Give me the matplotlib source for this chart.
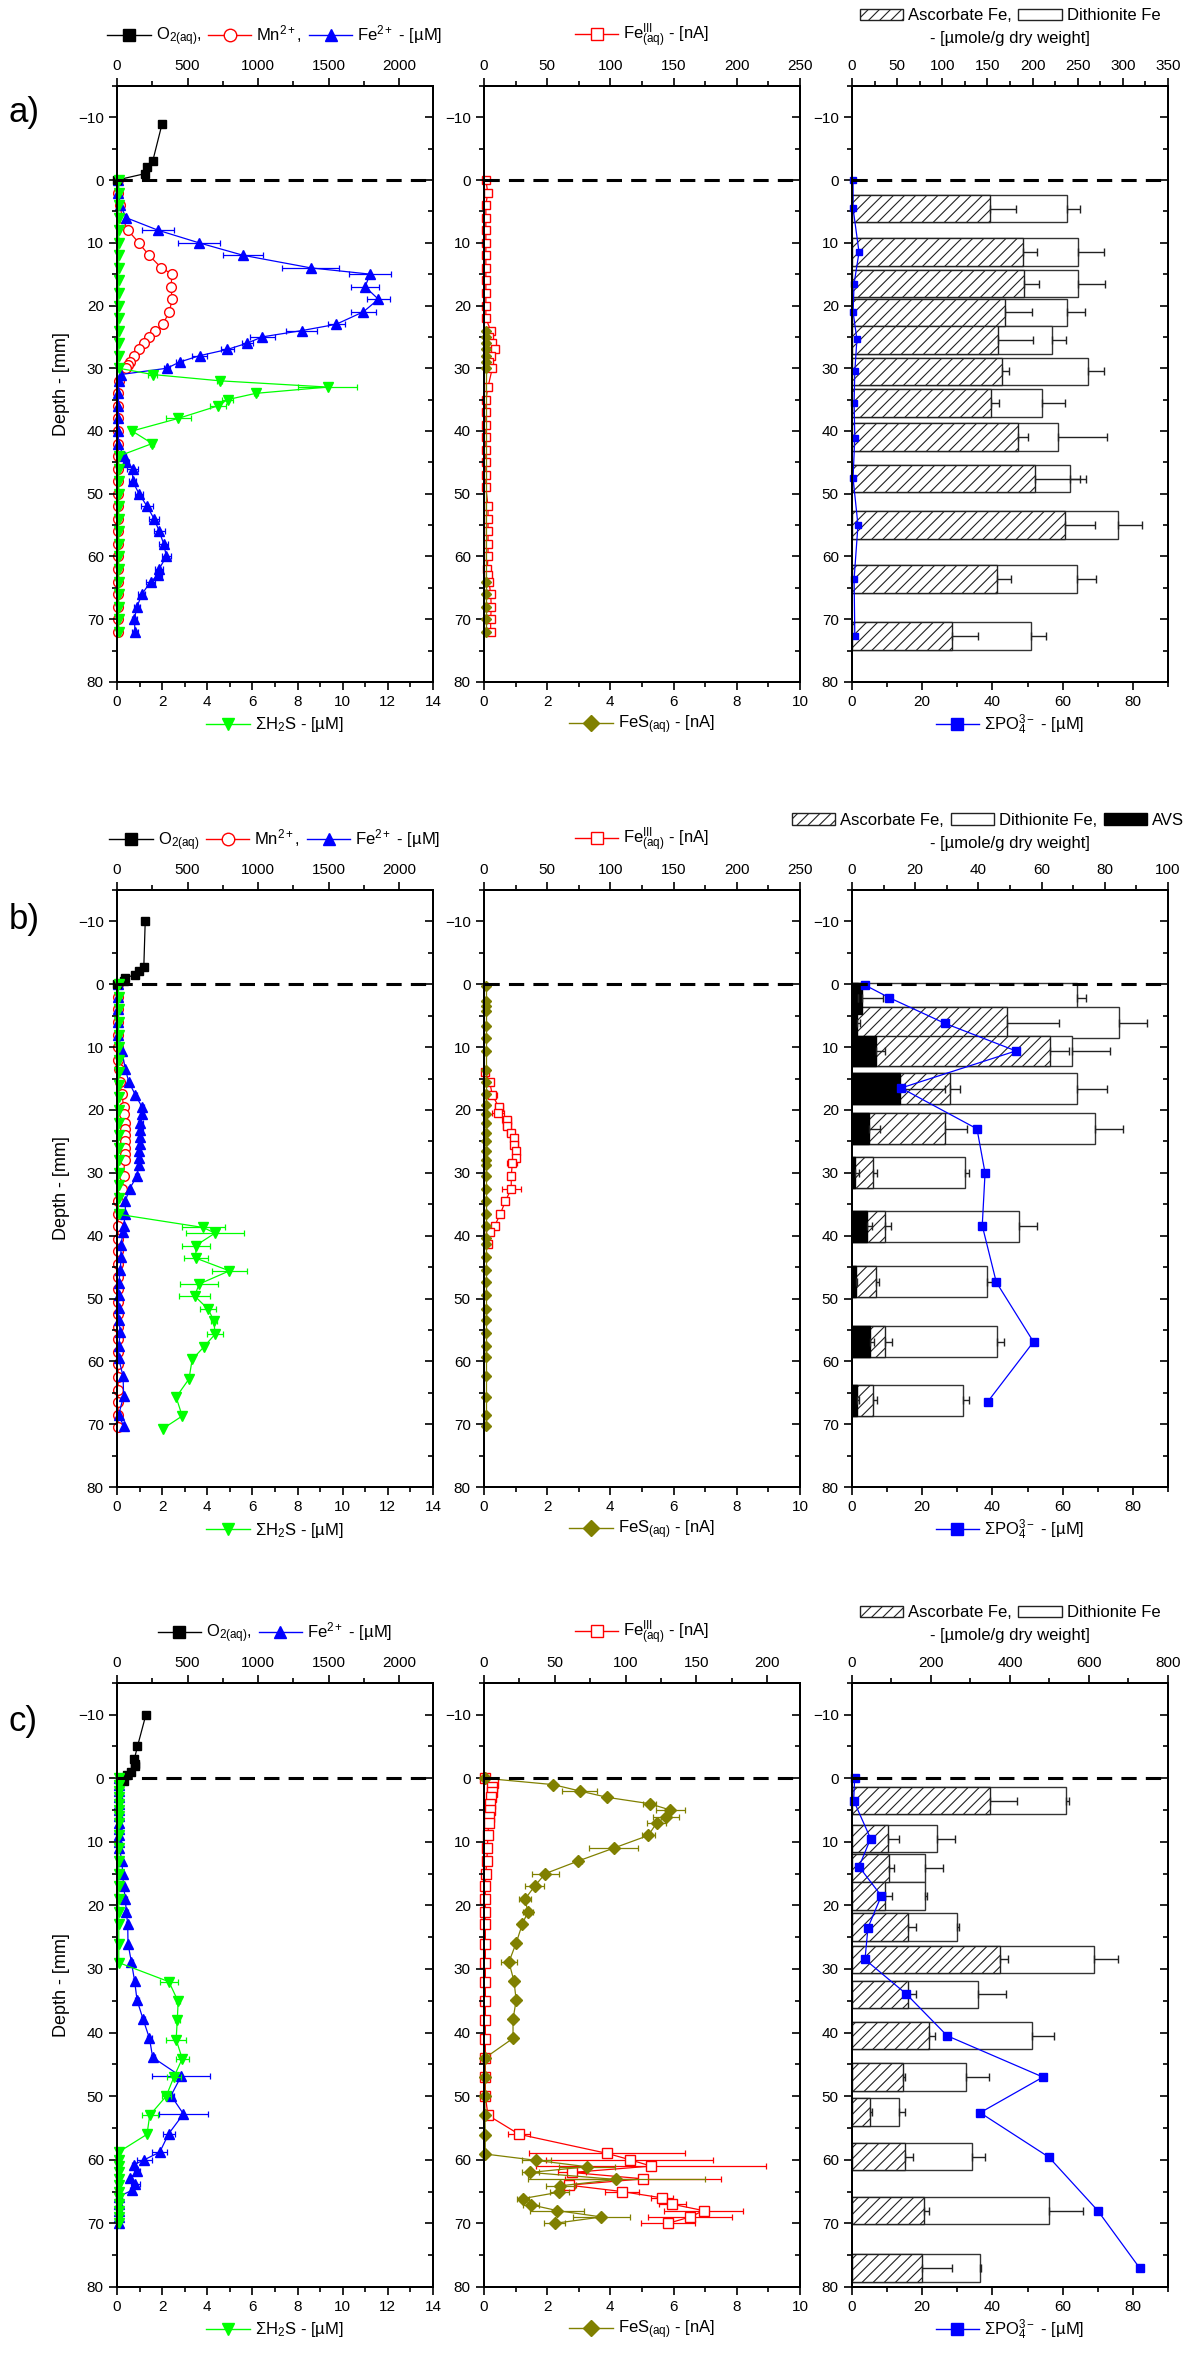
import matplotlib
matplotlib.use('Agg')
import matplotlib.pyplot as plt
import numpy as np
from matplotlib.lines import Line2D
from matplotlib.patches import Patch
from matplotlib.ticker import MultipleLocator

plt.rcParams['font.family'] = ['Liberation Sans', 'DejaVu Sans']
plt.rcParams['mathtext.fontset'] = 'custom'
plt.rcParams['mathtext.rm'] = 'Liberation Sans'
plt.rcParams['mathtext.it'] = 'Liberation Sans:italic'
plt.rcParams['mathtext.bf'] = 'Liberation Sans:bold'
plt.rcParams['hatch.linewidth'] = 0.8

RED = '#ff0000'
BLUE = '#0000ff'
GREEN = '#00ff00'
OLIVE = '#808000'

#################### a) ####################
o2_a_depth = [-9, -3, -2, -1, 0]
o2_a = [320, 253, 210, 195, 0]

mn_a_depth = [0, 2, 4, 6, 8, 10, 12, 14, 15, 17, 19, 21, 23, 24, 25, 26, 27, 28, 29, 29.5, 30,
              32, 34, 36, 38, 40, 42, 44, 46, 48, 50, 52, 54, 56, 58, 60, 62, 64, 66, 68, 70, 72]
mn_a = [5, 8, 24, 35, 78, 154, 227, 315, 390, 383, 390, 372, 324, 272, 225, 189, 154, 118, 95, 78, 66,
        12, 10, 10, 10, 10, 10, 10, 10, 10, 10, 10, 10, 10, 10, 10, 10, 10, 10, 10, 10, 10]
mn_a_err = [0, 0, 0, 0, 0, 0, 0, 12, 15, 15, 15, 15, 12, 12, 12, 10, 10, 10, 8, 8, 8,
            0, 0, 0, 0, 0, 0, 0, 0, 0, 0, 0, 0, 0, 0, 0, 0, 0, 0, 0, 0, 0]

fe_a_depth = [0, 2, 4, 6, 8, 10, 12, 14, 15, 17, 19, 21, 23, 24, 25, 26, 27, 28, 29, 30, 31,
              32, 34, 36, 38, 40, 42, 44, 45, 46, 48, 50, 52, 54, 56, 58, 60, 62, 63, 64, 66, 68, 70, 72]
fe_a = [5, 10, 24, 64, 291, 580, 895, 1373, 1794, 1759, 1853, 1747, 1553, 1309, 1030, 923, 783, 585, 445, 353, 28,
        12, 10, 10, 10, 10, 10, 47, 66, 111, 111, 156, 213, 263, 300, 331, 350, 298, 291, 239, 177, 142, 123, 128]
fe_a_err = [0, 0, 0, 10, 112, 148, 140, 201, 150, 98, 80, 89, 60, 112, 89, 40, 47, 53, 25, 20, 0,
            0, 0, 0, 0, 0, 0, 20, 20, 40, 25, 30, 40, 35, 40, 30, 30, 30, 25, 30, 25, 20, 20, 20]

h2s_a_depth = [0, 2, 4, 6, 8, 10, 12, 14, 16, 18, 20, 22, 24, 26, 28, 30, 31, 32, 33, 34, 35, 36, 38, 40, 42,
               44, 46, 48, 50, 52, 54, 56, 58, 60, 62, 64, 66, 68, 70, 72]
h2s_a = [0.08, 0.08, 0.08, 0.08, 0.08, 0.08, 0.08, 0.08, 0.08, 0.08, 0.08, 0.08, 0.08, 0.08, 0.08, 0.08,
         1.58, 4.55, 9.33, 6.15, 4.9, 4.47, 2.71, 0.67, 1.56,
         0.08, 0.08, 0.08, 0.08, 0.08, 0.08, 0.08, 0.08, 0.08, 0.08, 0.08, 0.08, 0.08, 0.08, 0.08]
h2s_a_err = [0, 0, 0, 0, 0, 0, 0, 0, 0, 0, 0, 0, 0, 0, 0, 0,
             0.2, 0.1, 1.3, 0.1, 0.25, 0.35, 0.55, 0.1, 0.1,
             0, 0, 0, 0, 0, 0, 0, 0, 0, 0, 0, 0, 0, 0, 0]

fe3_a_depth = [0, 2, 4, 6, 8, 10, 12, 14, 16, 18, 20, 22, 24, 25, 26, 27, 28, 29, 30, 33,
               35, 37, 39, 41, 43, 45, 47, 49, 52, 54, 56, 58, 60, 62, 63, 64, 66, 68, 70, 72]
fe3_a = [1.5, 3, 1.5, 1.5, 1.5, 1.5, 1.5, 1.5, 1.5, 1.5, 1.5, 1.5, 5.3, 3.7, 6.6, 8.4, 5.8, 4, 6.6, 3.2,
         1.5, 1.5, 1.5, 1.5, 1.5, 1.5, 1.5, 1.5, 3.2, 3.2, 3.2, 3.2, 3.2, 2.6, 3.2, 4, 5.3, 5.8, 5.3, 5.3]
fe3_a_err = [0, 0, 0, 0, 0, 0, 0, 0, 0, 0, 0, 0, 1.5, 1.5, 1.5, 1.5, 1.5, 1.5, 1.5, 1.2,
             0, 0, 0, 0, 0, 0, 0, 0, 1.2, 1.2, 1.2, 1.2, 1.2, 1.2, 1.2, 1.2, 1.5, 1.5, 1.5, 1.5]

fes_a_depth = [24, 25, 26, 27, 28, 29, 30, 64, 66, 68, 70, 72]
fes_a = [0.05, 0.05, 0.05, 0.05, 0.05, 0.05, 0.05, 0.05, 0.05, 0.05, 0.05, 0.05]

bar_a_depth = [4.55, 11.5, 16.5, 21.1, 25.5, 30.5, 35.5, 41, 47.6, 55, 63.6, 72.7]
asc_a = [153, 189, 190, 170, 162, 166, 154, 183.5, 203, 236, 161, 110.6]
asc_a_err = [29, 16, 17, 29, 39, 8, 9, 11.5, 50, 33, 15, 29.4]
dith_a = [238, 250, 250, 238, 222, 261, 210, 228, 241, 294.5, 249, 198]
dith_a_err = [15, 29, 30, 20, 15, 18, 26, 54, 18, 26.5, 21, 17]

po4_a_depth = [0, 4.5, 11.5, 16.5, 21, 25.4, 30.5, 35.5, 41.1, 47.5, 55, 63.6, 72.6]
po4_a = [0.3, 0.3, 2, 0.6, 0.3, 1.4, 0.8, 0.6, 0.8, 0.3, 1.7, 0.6, 0.8]

#################### b) ####################
o2_b_depth = [-10, -2.7, -2.1, -1.5, -1, -0.5, 0]
o2_b = [200, 190, 155, 125, 55, 50, 0]

mn_b_depth = [0, 2, 4, 6, 8, 10, 12, 13.5, 15.5, 17.5, 19.5, 20.6, 22, 23, 24, 25, 26, 27, 28,
              30.5, 32.5, 34.5, 36.5, 38.5, 40.5, 42.5, 44.5, 46.5, 48.5, 50.5, 52.5, 54.5, 56.5,
              58.5, 60.5, 62.5, 64.5, 66.5, 68.5, 70.5]
mn_b = [5, 5, 5, 5, 5, 8, 10, 12, 19, 35, 47, 52, 54, 54, 54, 54, 54, 54, 54,
        47, 35, 10, 8, 8, 8, 8, 8, 8, 8, 8, 8, 8, 8, 8, 8, 8, 8, 8, 8, 8]
mn_b_err = [0, 0, 0, 0, 0, 0, 0, 0, 5, 8, 10, 10, 12, 12, 12, 12, 12, 12, 12,
            10, 8, 0, 0, 0, 0, 0, 0, 0, 0, 0, 0, 0, 0, 0, 0, 0, 0, 0, 0, 0]

fe_b_depth = [0, 2, 4, 6, 8, 10.6, 13.5, 15.5, 17.6, 19.5, 20.6, 22, 23.2, 24.3, 25.4, 26.5, 27.6, 28.7,
              30.5, 32.5, 34.5, 36.5, 38.5, 39.4, 41.5, 43.4, 45.5, 47.5, 49.5, 51.5, 53.5, 55.3,
              57.5, 59.5, 62.4, 65.5, 68.5, 70.3]
fe_b = [8, 8, 8, 8, 10, 35, 59, 83, 130, 177, 177, 166, 166, 161, 161, 154, 154, 154,
        142, 90, 59, 59, 47, 43, 28, 28, 24, 12, 12, 12, 12, 24, 12, 12, 43, 47, 12, 47]
fe_b_err = [0, 0, 0, 0, 0, 5, 8, 10, 12, 15, 15, 15, 15, 15, 15, 15, 15, 15,
            12, 10, 8, 5, 5, 5, 3, 3, 3, 0, 0, 0, 0, 0, 0, 0, 5, 5, 0, 5]

h2s_b_depth = [0, 2, 4, 6, 8, 10, 12, 14, 16, 18, 20, 22, 24, 26, 28, 30, 32, 34, 36.6,
               38.7, 39.6, 41.6, 43.6, 45.6, 47.7, 49.6, 51.7, 53.6, 55.7, 57.7, 59.7, 62.8, 65.7, 68.7, 70.7]
h2s_b = [0.07, 0.07, 0.07, 0.07, 0.07, 0.07, 0.07, 0.07, 0.07, 0.07, 0.07, 0.07, 0.07, 0.07, 0.07, 0.07, 0.07,
         0.07, 0.07,
         3.82, 4.34, 3.48, 3.51, 4.98, 3.64, 3.44, 4.04, 4.3, 4.34, 3.85, 3.33, 3.19, 2.62, 2.89, 2.04]
h2s_b_err = [0, 0, 0, 0, 0, 0, 0, 0, 0, 0, 0, 0, 0, 0, 0, 0, 0, 0, 0,
             0.95, 1.29, 0.62, 0.53, 0.76, 0.83, 0.68, 0.36, 0.15, 0.36, 0, 0, 0, 0, 0, 0]

fe3_b_depth = [14, 15.5, 17.6, 19.6, 20.5, 21.6, 22.6, 23.6, 24.5, 25.5, 26.5, 27.6, 28.5, 30.5, 32.5,
               34.5, 36.5, 38.5, 39.4, 41.4]
fe3_b = [1, 4.5, 6.6, 11.9, 11, 18, 18, 21, 24, 24, 25.6, 25.6, 22.4, 21.6, 21.6, 17, 13, 8.4, 4.5, 3.2]
fe3_b_err = [0, 1, 4, 3, 5, 3.5, 3, 3, 2.5, 3, 2.5, 2.5, 4, 2.5, 7.5, 2, 2, 2, 1.5, 1]

fes_b_depth = [0.2, 2.6, 3.5, 4.2, 6.6, 8.6, 10.6, 13.7, 15.5, 17.4, 19.2, 20.7, 22.1, 23.6, 25, 26.5,
               27.9, 28.7, 30.5, 32.5, 34.5, 36.5, 38.5, 40.3, 41.4, 43.4, 45.5, 47.4, 49.5, 51.7,
               53.5, 55.5, 57.5, 59.3, 62.3, 65.6, 68.5, 70.3]
fes_b = [0.08, 0.08, 0.08, 0.08, 0.08, 0.08, 0.08, 0.08, 0.08, 0.08, 0.08, 0.08, 0.08, 0.08, 0.08, 0.08,
         0.08, 0.08, 0.08, 0.08, 0.08, 0.08, 0.08, 0.08, 0.08, 0.08, 0.08, 0.08, 0.08, 0.08,
         0.08, 0.08, 0.08, 0.08, 0.08, 0.08, 0.08, 0.08]

bar_b_depth = [2.2, 6.1, 10.6, 16.6, 23, 30, 38.5, 47.3, 56.9, 66.2]
avs_b = [3.3, 1.6, 7.7, 15.3, 5.3, 1.1, 4.7, 1.2, 5.8, 1.7]
avs_b_err = [6.5, 0.8, 2.9, 14, 3.7, 1.0, 1.7, 0.5, 1.1, 0.6]
asc_b = [2, 49.1, 62.6, 30.9, 29.4, 6.7, 10.5, 7.7, 10.5, 6.7]
asc_b_err = [0, 16.3, 6, 3.4, 7.1, 1.2, 2, 0.9, 2.3, 1.3]
dith_b = [71.3, 84.6, 69.7, 71.1, 76.9, 35.7, 53, 42.8, 45.8, 35]
dith_b_err = [2.9, 8.9, 12.1, 9.6, 9, 1.4, 5.5, 1.4, 2.4, 2.1]

po4_b_depth = [0.1, 2.1, 6.2, 10.6, 16.5, 23, 30, 38.4, 47.4, 56.9, 66.4]
po4_b = [3.6, 10.5, 26.4, 46.7, 14, 35.6, 37.9, 37.1, 41.1, 51.7, 38.7]

#################### c) ####################
o2_c_depth = [-10, -5, -3, -2.3, -2, -1, -0.5, 0.5]
o2_c = [205, 145, 123, 125, 125, 102, 71, 47]

fe_c_depth = [0, 1, 2, 3, 4, 5, 6, 7, 8, 9, 10, 11, 13, 15, 17, 19, 21, 23, 26, 28.9, 31.9, 34.9, 37.9,
              40.9, 43.9, 46.9, 49.9, 52.8, 55.9, 58.8, 60, 60.8, 61.8, 62.9, 63.8, 64.8, 65.8,
              67, 68, 69, 70]
fe_c = [15, 17, 17, 17, 17, 17, 17, 17, 17, 17, 17, 17, 35, 40, 47, 59, 66, 76, 78, 102, 125, 142, 185,
        230, 253, 454, 383, 471, 367, 303, 194, 118, 142, 95, 130, 107, 12,
        12, 12, 12, 12]
fe_c_err = [0, 0, 0, 0, 0, 0, 0, 0, 0, 0, 0, 0, 8, 8, 10, 10, 10, 10, 10, 10, 12, 12, 12,
            15, 15, 207, 20, 172, 41, 53, 53, 15, 20, 10, 30, 15, 0,
            0, 0, 0, 0]

h2s_c_depth = [0, 1, 2, 3, 4, 5, 6, 7, 9, 11, 13, 15, 17, 19, 21, 23, 26, 29,
               32, 35.1, 38.1, 41.1, 44.1, 47, 50, 53, 56, 58.8,
               60, 61, 62, 63, 64, 65, 66, 67, 68, 69, 70]
h2s_c = [0.08, 0.08, 0.08, 0.08, 0.08, 0.08, 0.08, 0.08, 0.08, 0.08, 0.08, 0.08, 0.08, 0.08, 0.08, 0.08,
         0.08, 0.08,
         2.3, 2.71, 2.67, 2.62, 2.89, 2.52, 2.18, 1.45, 1.33, 0.07,
         0.08, 0.08, 0.08, 0.08, 0.08, 0.08, 0.08, 0.08, 0.08, 0.08, 0.08]
h2s_c_err = [0, 0, 0, 0, 0, 0, 0, 0, 0, 0, 0, 0, 0, 0, 0, 0, 0, 0,
             0.4, 0.1, 0.1, 0.45, 0.28, 0.3, 0.2, 0.35, 0.05, 0,
             0, 0, 0, 0, 0, 0, 0, 0, 0, 0, 0]

fe3_c_depth = [0, 0.8, 1.4, 2.1, 2.9, 4, 5, 6.1, 7, 9, 11, 13, 15, 17, 19, 21, 23,
               26, 29, 32, 35, 38, 41, 44, 47, 50,
               53, 56, 59, 60, 61, 62, 63, 64, 65, 66, 67, 68, 69, 70]
fe3_c = [1, 6.4, 5.9, 5.7, 5.2, 4.5, 4, 3.5, 3.3, 2.8, 2.4, 2.1, 1.2, 1, 1, 1, 1,
         1, 1, 1, 1, 1, 1, 1, 1, 1,
         2.8, 24.8, 87, 103, 118, 62, 112.5, 60, 97.4, 125.7, 133, 155, 145.5, 130]
fe3_c_err = [0, 1.5, 1.5, 1.5, 1.2, 1.2, 1, 1, 1, 1, 1, 1, 0.5, 0, 0, 0, 0,
             0, 0, 0, 0, 0, 0, 0, 0, 0,
             1.2, 7.7, 55, 59, 81, 10, 55, 5, 12, 7.5, 9.4, 28, 29.5, 19]

fes_c_depth = [0, 1, 2, 3, 4, 5, 6.1, 7, 9, 11, 13, 15, 17, 19, 21, 23, 25.9, 28.9, 31.9, 34.9, 37.9,
               40.9, 44, 47, 50, 53, 56.1, 59.1, 60.1, 61.1, 62, 63.1, 64.1, 65.1, 66.1, 67.1, 68, 69, 70]
fes_c = [0.02, 2.19, 3.03, 3.9, 5.24, 5.9, 5.76, 5.47, 5.2, 4.1, 2.99, 1.94, 1.6, 1.3, 1.39, 1.21, 1.02,
         0.79, 0.95, 1.02, 0.92, 0.92, 0.03, 0.03, 0.03, 0.03, 0.04, 0.04,
         1.66, 3.26, 1.47, 4.19, 2.42, 2.38, 1.24, 1.5, 2.32, 3.72, 2.24]
fes_c_err = [0, 0.1, 0.55, 0.1, 0.2, 0.45, 0.4, 0.3, 0.2, 0.78, 0.1, 0.43, 0.3, 0.2, 0.15, 0.1, 0.1,
             0.24, 0.1, 0.1, 0.1, 0.1, 0, 0, 0, 0, 0, 0,
             0.47, 0.9, 0.26, 2.8, 0.47, 0.3, 0.2, 0.25, 0.85, 0.9, 0.33]

bar_c_depth = [3.55, 9.5, 14.1, 18.5, 23.4, 28.5, 34, 40.5, 47, 52.5, 59.5, 68, 77]
asc_c = [350, 92, 94, 84, 142, 375, 142, 196, 129, 46.5, 134, 183, 176]
asc_c_err = [69, 26, 12, 18, 21, 19, 21, 14, 6, 3.5, 21, 12, 76]
dith_c = [541, 216, 184, 185, 266, 614, 320, 456, 288, 119, 304, 498, 324]
dith_c_err = [8, 44, 47, 6, 5, 59, 69, 56, 58, 15, 33, 88, 2]

po4_c_depth = [0, 3.5, 9.5, 13.9, 18.5, 23.5, 28.5, 33.9, 40.5, 47, 52.6, 59.6, 68, 77]
po4_c = [0.76, 0.47, 5.3, 2, 8.35, 4.55, 3.7, 15.4, 27.1, 54.4, 36.5, 56.1, 70, 81.9]

######################################################################
fig = plt.figure(figsize=(12, 23.54), dpi=100)

COL_LEFT = [0.0975, 0.4033, 0.71]
COL_W = 0.2633
ROW_RECT = {'a': (0.7103, 0.2532), 'b': (0.3683, 0.2536), 'c': (0.0285, 0.2566)}
TICK_FS = 11
LEG_FS = 12


def make_panel(row, col, bot_lim, bot_step, top_lim, top_step):
    bottom, height = ROW_RECT[row]
    ax = fig.add_axes([COL_LEFT[col], bottom, COL_W, height])
    ax.set_ylim(80, -15)
    ax.set_xlim(*bot_lim)
    ax.xaxis.set_major_locator(MultipleLocator(bot_step))
    ax.xaxis.set_minor_locator(MultipleLocator(bot_step / 2))
    ax.set_yticks([-10, 0, 10, 20, 30, 40, 50, 60, 70, 80])
    ax.yaxis.set_minor_locator(MultipleLocator(5))
    ax.tick_params(which='both', direction='out', top=False, right=False, labelsize=TICK_FS, width=1.2)
    ax.tick_params(which='major', length=6)
    ax.tick_params(which='minor', length=3.5)

    axt = ax.twiny()
    axt.set_xlim(*top_lim)
    axt.xaxis.set_major_locator(MultipleLocator(top_step))
    axt.xaxis.set_minor_locator(MultipleLocator(top_step / 2))
    axt.tick_params(which='both', direction='out', labelsize=TICK_FS, width=1.2)
    axt.tick_params(which='major', length=6)
    axt.tick_params(which='minor', length=3.5)

    axr = ax.twinx()
    axr.set_ylim(80, -15)
    axr.set_yticks([-10, 0, 10, 20, 30, 40, 50, 60, 70, 80])
    axr.yaxis.set_minor_locator(MultipleLocator(5))
    axr.tick_params(which='both', direction='in', labelright=False, width=1.2)
    axr.tick_params(which='major', length=6)
    axr.tick_params(which='minor', length=3.5)

    for a in (ax, axt, axr):
        for s in a.spines.values():
            s.set_linewidth(1.4)

    axt.set_zorder(1)
    ax.set_zorder(2)
    axr.set_zorder(3)
    ax.patch.set_visible(False)
    ax.axhline(0, color='k', ls=(0, (5, 3)), lw=2.2, zorder=5)
    return ax, axt


def series(ax, x, y, err, color, marker, ms, mfc=None, lw=0.9):
    if mfc is None:
        mfc = color
    ax.errorbar(x, y, xerr=err, color=color, marker=marker, ms=ms, mfc=mfc, mec=color,
                lw=lw, elinewidth=0.9, capsize=2.5, capthick=0.9, clip_on=False)


def bars(axt, depth, h, dith, dith_err, asc, asc_err, avs=None, avs_err=None):
    axt.barh(depth, dith, height=h, color='white', edgecolor='#333333', lw=1.0)
    axt.barh(depth, asc, height=h, facecolor='white', edgecolor='#222222', hatch='///', lw=1.0)
    if avs is not None:
        axt.barh(depth, avs, height=h, color='black', edgecolor='black', lw=1.0)
        axt.errorbar(avs, depth, xerr=[np.zeros(len(avs)), avs_err], fmt='none', ecolor='#222222',
                     elinewidth=1.0, capsize=3, capthick=1.0)
    axt.errorbar(asc, depth, xerr=[np.zeros(len(asc)), asc_err], fmt='none', ecolor='#222222',
                 elinewidth=1.0, capsize=3, capthick=1.0)
    axt.errorbar(dith, depth, xerr=[np.zeros(len(dith)), dith_err], fmt='none', ecolor='#222222',
                 elinewidth=1.0, capsize=3, capthick=1.0)


def line_handle(color, marker, ms, mfc=None):
    if mfc is None:
        mfc = color
    return Line2D([], [], color=color, marker=marker, ms=ms, mfc=mfc, mec=color, lw=1)


H_O2 = line_handle('k', 's', 8)
H_MN = line_handle(RED, 'o', 9, 'white')
H_FE = line_handle(BLUE, '^', 9)
H_H2S = line_handle(GREEN, 'v', 9)
H_FE3 = line_handle(RED, 's', 9, 'white')
H_FES = line_handle(OLIVE, 'D', 8)
H_PO4 = line_handle(BLUE, 's', 8)
H_ASC = Patch(facecolor='white', edgecolor='#222222', hatch='///', lw=1)
H_DITH = Patch(facecolor='white', edgecolor='#222222', lw=1)
H_AVS = Patch(facecolor='black', edgecolor='black', lw=1)

L_O2 = r'O$_{\mathrm{2(aq)}}$,'
L_MN = r'Mn$^{2+}$,'
L_FE = r'Fe$^{2+}$ - [µM]'
L_H2S = r'ΣH$_2$S - [µM]'
L_FE3 = r'Fe$^{\mathrm{III}}_{\mathrm{(aq)}}$ - [nA]'
L_FES = r'FeS$_{\mathrm{(aq)}}$ - [nA]'
L_PO4 = r'ΣPO$_4^{\mathrm{3-}}$ - [µM]'


def labels_panel(ax, row, top_h, top_l, bot_h, bot_l, two_line=False, legx=0.5):
    h = ROW_RECT[row][1] * 2354
    if two_line:
        ytop = 1 + 70 / h
        ax.text(0.5, 1 + 47 / h, '- [µmole/g dry weight]', transform=ax.transAxes,
                ha='center', va='center', fontsize=LEG_FS)
    else:
        ytop = 1 + 50 / h
    leg = ax.legend(top_h, top_l, loc='center', bbox_to_anchor=(legx, ytop), ncol=len(top_h),
                    frameon=False, fontsize=LEG_FS, handlelength=2.6, handletextpad=0.3,
                    columnspacing=0.4, borderpad=0, numpoints=1)
    ax.add_artist(leg)
    ax.legend(bot_h, bot_l, loc='center', bbox_to_anchor=(0.5, -43 / h), frameon=False,
              fontsize=LEG_FS, handlelength=2.6, handletextpad=0.3, borderpad=0, numpoints=1)


# ---------------- row a ----------------
ax, axt = make_panel('a', 0, (0, 14), 2, (0, 2240), 500)
series(ax, h2s_a, h2s_a_depth, h2s_a_err, GREEN, 'v', 7)
series(axt, mn_a, mn_a_depth, mn_a_err, RED, 'o', 7, 'white')
series(axt, fe_a, fe_a_depth, fe_a_err, BLUE, '^', 7.5)
series(axt, o2_a, o2_a_depth, None, 'k', 's', 6)
ax.set_ylabel('Depth - [mm]', fontsize=13, labelpad=6)
labels_panel(ax, 'a', [H_O2, H_MN, H_FE], [L_O2, L_MN, L_FE], [H_H2S], [L_H2S])

ax, axt = make_panel('a', 1, (0, 10), 2, (0, 250), 50)
series(ax, fes_a, fes_a_depth, None, OLIVE, 'D', 5.5)
series(axt, fe3_a, fe3_a_depth, fe3_a_err, RED, 's', 6, 'white')
labels_panel(ax, 'a', [H_FE3], [L_FE3], [H_FES], [L_FES])

ax, axt = make_panel('a', 2, (0, 90), 20, (0, 350), 50)
bars(axt, bar_a_depth, 4.4, dith_a, dith_a_err, asc_a, asc_a_err)
series(ax, po4_a, po4_a_depth, None, BLUE, 's', 5)
labels_panel(ax, 'a', [H_ASC, H_DITH], ['Ascorbate Fe,', 'Dithionite Fe'], [H_PO4], [L_PO4], True)

# ---------------- row b ----------------
ax, axt = make_panel('b', 0, (0, 14), 2, (0, 2240), 500)
series(ax, h2s_b, h2s_b_depth, h2s_b_err, GREEN, 'v', 7)
series(axt, mn_b, mn_b_depth, mn_b_err, RED, 'o', 7, 'white')
series(axt, fe_b, fe_b_depth, fe_b_err, BLUE, '^', 7.5)
series(axt, o2_b, o2_b_depth, None, 'k', 's', 6)
ax.set_ylabel('Depth - [mm]', fontsize=13, labelpad=6)
labels_panel(ax, 'b', [H_O2, H_MN, H_FE], [r'O$_{\mathrm{2(aq)}}$', L_MN, L_FE], [H_H2S], [L_H2S])

ax, axt = make_panel('b', 1, (0, 10), 2, (0, 250), 50)
series(ax, fes_b, fes_b_depth, None, OLIVE, 'D', 5.5)
series(axt, fe3_b, fe3_b_depth, fe3_b_err, RED, 's', 6, 'white')
labels_panel(ax, 'b', [H_FE3], [L_FE3], [H_FES], [L_FES])

ax, axt = make_panel('b', 2, (0, 90), 20, (0, 100), 20)
bars(axt, bar_b_depth, 4.9, dith_b, dith_b_err, asc_b, asc_b_err, avs_b, avs_b_err)
series(ax, po4_b, po4_b_depth, None, BLUE, 's', 6)
labels_panel(ax, 'b', [H_ASC, H_DITH, H_AVS], ['Ascorbate Fe,', 'Dithionite Fe,', 'AVS'],
             [H_PO4], [L_PO4], True, legx=0.43)

# ---------------- row c ----------------
ax, axt = make_panel('c', 0, (0, 14), 2, (0, 2240), 500)
series(ax, h2s_c, h2s_c_depth, h2s_c_err, GREEN, 'v', 7)
series(axt, fe_c, fe_c_depth, fe_c_err, BLUE, '^', 7.5)
series(axt, o2_c, o2_c_depth, None, 'k', 's', 6)
ax.set_ylabel('Depth - [mm]', fontsize=13, labelpad=6)
labels_panel(ax, 'c', [H_O2, H_FE], [L_O2, L_FE], [H_H2S], [L_H2S])

ax, axt = make_panel('c', 1, (0, 10), 2, (0, 223), 50)
series(ax, fes_c, fes_c_depth, fes_c_err, OLIVE, 'D', 6)
series(axt, fe3_c, fe3_c_depth, fe3_c_err, RED, 's', 6.5, 'white')
labels_panel(ax, 'c', [H_FE3], [L_FE3], [H_FES], [L_FES])

ax, axt = make_panel('c', 2, (0, 90), 20, (0, 800), 200)
bars(axt, bar_c_depth, 4.3, dith_c, dith_c_err, asc_c, asc_c_err)
series(ax, po4_c, po4_c_depth, None, BLUE, 's', 6)
labels_panel(ax, 'c', [H_ASC, H_DITH], ['Ascorbate Fe,', 'Dithionite Fe'], [H_PO4], [L_PO4], True)

fig.text(0.007, 0.952, 'a)', fontsize=25, va='center', ha='left')
fig.text(0.007, 0.6096, 'b)', fontsize=25, va='center', ha='left')
fig.text(0.007, 0.2685, 'c)', fontsize=25, va='center', ha='left')

fig.savefig('out.png', dpi=100)
